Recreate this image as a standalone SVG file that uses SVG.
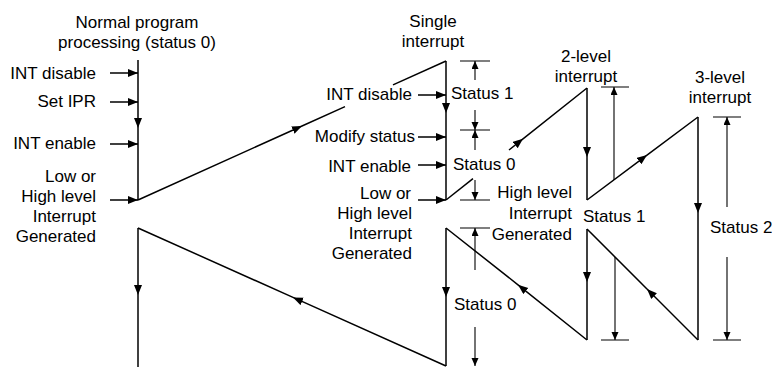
<svg xmlns="http://www.w3.org/2000/svg" width="772" height="367" viewBox="0 0 772 367">
<style>
text{font-family:"Liberation Sans",Arial,sans-serif;font-size:17px;fill:#000}
.r{text-anchor:end}
.c{text-anchor:middle}
.m{fill:none;stroke:#000;stroke-width:1.5}
.b{fill:none;stroke:#000;stroke-width:1.1}
.mid{marker-mid:url(#ah)}
.end{marker-end:url(#ah)}
.bend{marker-end:url(#as)}
</style>
<defs>
<marker id="ah" markerUnits="userSpaceOnUse" markerWidth="11" markerHeight="9" refX="10" refY="4" orient="auto"><path d="M0,0 L10,4 L0,8 z" fill="#000"/></marker>
<marker id="as" markerUnits="userSpaceOnUse" markerWidth="9" markerHeight="8" refX="8" refY="3.5" orient="auto"><path d="M0,0 L8,3.5 L0,7 z" fill="#000"/></marker>
</defs>
<rect width="772" height="367" fill="#fff"/>

<g id="normal">
<text class="c" x="137" y="28">Normal program</text>
<text class="c" x="137" y="48">processing (status 0)</text>
<text class="r" x="96" y="79">INT disable</text>
<text class="r" x="96" y="107">Set IPR</text>
<text class="r" x="96" y="149">INT enable</text>
<text class="r" x="96" y="182">Low or</text>
<text class="r" x="96" y="202">High level</text>
<text class="r" x="96" y="222">Interrupt</text>
<text class="r" x="96" y="242">Generated</text>
</g>

<g id="single">
<text class="c" x="433" y="27">Single</text>
<text class="c" x="433" y="47">interrupt</text>
<text class="r" x="412" y="100">INT disable</text>
<text class="r" x="415" y="142">Modify status</text>
<text class="r" x="411" y="172">INT enable</text>
<text class="r" x="411" y="199">Low or</text>
<text class="r" x="412" y="219">High level</text>
<text class="r" x="412" y="239">Interrupt</text>
<text class="r" x="412" y="259">Generated</text>
<text x="451" y="99">Status 1</text>
<text x="453" y="170">Status 0</text>
<text x="454" y="310">Status 0</text>
</g>

<g id="level2">
<text class="c" x="586" y="62">2-level</text>
<text class="c" x="586" y="82">interrupt</text>
<text class="r" x="572" y="198">High level</text>
<text class="r" x="572" y="219">Interrupt</text>
<text class="r" x="572" y="240">Generated</text>
<text x="583" y="222">Status 1</text>
</g>

<g id="level3">
<text class="c" x="720" y="83">3-level</text>
<text class="c" x="720" y="103">interrupt</text>
<text x="710" y="233">Status 2</text>
</g>

<g id="connectors">
<path class="m mid" d="M138,60 L138,128 L138,200"/>
<path class="m end" d="M110,73 L138,73"/>
<path class="m end" d="M110,102 L138,102"/>
<path class="m end" d="M110,144 L138,144"/>
<path class="m end" d="M110,200 L138,200"/>
<path class="m mid" d="M138,200 L302,126 L345,106.6"/>
<path class="m" d="M393,84.9 L446,61"/>
<path class="m mid" d="M446,61 L446,113 L446,200"/>
<path class="m end" d="M418,95 L446,95"/>
<path class="m end" d="M418,137 L446,137"/>
<path class="m end" d="M418,165 L446,165"/>
<path class="m end" d="M418,200 L446,200"/>
<path class="m" d="M446,200 L473,178.6"/>
<path class="m mid" d="M509,150 L523,138.8 L587,88"/>
<path class="m mid" d="M587,88 L587,157 L587,200"/>
<path class="m mid" d="M587,200 L647,155.1 L698,117"/>
<path class="m mid" d="M698,117 L698,213 L698,340"/>
<path class="m mid" d="M698,340 L647,289 L587,229"/>
<path class="m mid" d="M587,229 L587,282 L587,340"/>
<path class="m mid" d="M587,340 L518,284.8 L446,228"/>
<path class="m mid" d="M446,228 L446,297 L446,366"/>
<path class="m mid" d="M446,366 L293,297.4 L138,228"/>
<path class="m mid" d="M138,228 L138,295 L138,367"/>
</g>

<g id="brackets">
<path class="b" d="M460,61 H490 M460,130 H490 M460,200 H490 M460,228 H490"/>
<path class="b bend" d="M475,80 V61"/>
<path class="b bend" d="M475,110 V130"/>
<path class="b bend" d="M475,150 V130"/>
<path class="b bend" d="M475,180 V200"/>
<path class="b bend" d="M475,270 V228"/>
<path class="b bend" d="M475,327 V366"/>
<path class="b" d="M601,87 H629 M601,340 H629"/>
<path class="b bend" d="M614,180 V87"/>
<path class="b bend" d="M615,257 V340"/>
<path class="b" d="M713,117 H741 M713,340 H741"/>
<path class="b bend" d="M727,207 V117"/>
<path class="b bend" d="M727,257 V340"/>
</g>
</svg>
